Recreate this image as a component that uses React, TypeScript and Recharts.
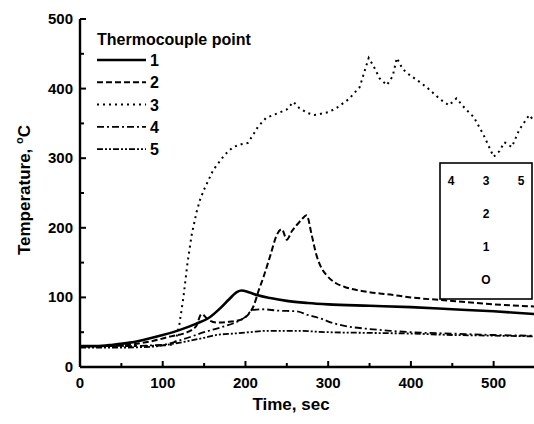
import React from 'react';
import { LineChart, Line, XAxis, YAxis, Customized } from 'recharts';

// time (sec) / temperature (degC) for each thermocouple point
const t1 = [0, 20, 40, 60, 80, 100, 120, 140, 155, 170, 180, 190, 195, 205, 215, 230, 250, 275, 300, 350, 400, 450, 500, 550];
const v1 = [30, 30, 32, 35, 40, 46, 53, 62, 70, 85, 97, 108, 110, 107, 103, 99, 95, 92, 90, 88, 86, 83, 80, 76];

const t2 = [0, 30, 60, 90, 110, 125, 140, 147, 155, 165, 180, 195, 203, 210, 216, 222, 230, 238, 244, 250, 256, 262, 268, 274, 280, 286, 292, 298, 310, 320, 347, 375, 400, 450, 500, 550];
const v2 = [30, 30, 32, 38, 44, 48, 58, 76, 68, 64, 65, 68, 75, 88, 110, 130, 160, 190, 198, 183, 195, 204, 212, 218, 190, 160, 142, 132, 120, 115, 108, 104, 100, 95, 90, 87];

const t3 = [0, 20, 40, 60, 80, 100, 110, 115, 120, 125, 130, 135, 141, 145, 150, 161, 175, 185, 195, 203, 210, 215, 225, 240, 250, 258, 265, 275, 283, 300, 310, 325, 338, 344, 349, 355, 362, 371, 378, 383, 390, 398, 410, 419, 435, 446, 455, 465, 476, 488, 500, 507, 513, 522, 531, 543, 550];
const v3 = [30, 29, 31, 30, 30, 31, 32, 35, 60, 100, 150, 190, 223, 240, 255, 283, 305, 316, 320, 322, 335, 345, 358, 365, 370, 381, 372, 365, 362, 366, 372, 385, 402, 425, 444, 432, 415, 405, 418, 444, 428, 420, 410, 402, 385, 376, 386, 372, 359, 333, 302, 310, 323, 316, 341, 362, 352];

const t4 = [0, 50, 100, 125, 150, 173, 190, 200, 209, 220, 240, 262, 275, 290, 306, 325, 346, 375, 400, 450, 500, 550];
const v4 = [30, 30, 32, 40, 50, 58, 65, 72, 82, 83, 81, 80, 75, 70, 63, 58, 55, 52, 50, 48, 46, 45];

const t5 = [0, 50, 85, 105, 125, 150, 165, 185, 205, 225, 260, 300, 350, 400, 450, 500, 550];
const v5 = [28, 28, 29, 32, 36, 42, 46, 48, 50, 52, 52, 50, 49, 48, 46, 45, 44];

const xTicks = [0, 50, 100, 150, 200, 250, 300, 350, 400, 450, 500];
const yTicks = [0, 50, 100, 150, 200, 250, 300, 350, 400, 450, 500];
const seriesNames = ['1', '2', '3', '4', '5'];
const insetRows = [['4', '3', '5'], ['', '2', ''], ['', '1', ''], ['', 'O', '']];

const zip = (t: number[], v: number[]) => t.map((x, i) => ({ t: x, v: v[i] }));

const FONT = '"Liberation Sans", Arial, sans-serif';

const dashes = ['', '6 3', '2 4', '7 3 2 3', '6 2 2 2 2 2'];
const widths = [2.6, 2, 2, 1.8, 1.8];

const XTick = (props: any) => {
  const { x, y, payload } = props;
  const major = payload.value % 100 === 0;
  return (
    <g>
      <line x1={x} x2={x} y1={y} y2={y - (major ? 6 : 4)} stroke="#000" strokeWidth={2} />
      {major && (
        <text x={x} y={y + 21} textAnchor="middle" fontFamily={FONT} fontWeight="bold" fontSize={15} fill="#000">
          {payload.value}
        </text>
      )}
    </g>
  );
};

const YTick = (props: any) => {
  const { x, y, payload } = props;
  const major = payload.value % 100 === 0;
  return (
    <g>
      <line x1={x} x2={x + (major ? 6 : 4)} y1={y} y2={y} stroke="#000" strokeWidth={2} />
      {major && (
        <text x={x - 7} y={y + 5} textAnchor="end" fontFamily={FONT} fontWeight="bold" fontSize={15} fill="#000">
          {payload.value}
        </text>
      )}
    </g>
  );
};

const Decorations = () => (
  <g fontFamily={FONT} fontWeight="bold" fill="#000">
    {/* legend */}
    <text x={97} y={45} fontSize={16}>Thermocouple point</text>
    {seriesNames.map((n, i) => {
      const y = 60 + i * 22.3;
      return (
        <g key={n}>
          <line x1={97} x2={146} y1={y} y2={y} stroke="#000" strokeWidth={widths[i]} strokeDasharray={dashes[i] || undefined} />
          <text x={150} y={y + 6} fontSize={16}>{n}</text>
        </g>
      );
    })}
    {/* axis titles */}
    <text x={291} y={410} textAnchor="middle" fontSize={17}>Time, sec</text>
    <text transform="translate(30,190) rotate(-90)" textAnchor="middle" fontSize={17}>
      Temperature, <tspan fontSize={11} dy={-7}>o</tspan><tspan dy={7}>C</tspan>
    </text>
    {/* inset sketch of thermocouple positions */}
    <rect x={440} y={163} width={92} height={136} fill="#fff" stroke="#000" strokeWidth={1.6} />
    {insetRows.map((row, r) =>
      row.map((s, c) =>
        s ? (
          <text key={`${r}-${c}`} x={451 + c * 35} y={185 + r * 33} textAnchor="middle" fontSize={12}>
            {s}
          </text>
        ) : null
      )
    )}
  </g>
);

export default function App() {
  const series = [zip(t1, v1), zip(t2, v2), zip(t3, v3), zip(t4, v4), zip(t5, v5)];
  return (
    <div style={{ position: 'absolute', left: 0, top: 0, width: 534, height: 424, overflow: 'hidden', background: '#fff' }}>
      <LineChart width={546} height={424} margin={{ top: 19, right: 11, left: 0, bottom: 0 }}>
        <XAxis
          dataKey="t"
          type="number"
          domain={[0, 550]}
          ticks={xTicks}
          interval={0}
          allowDataOverflow
          height={57}
          tickSize={0}
          tickMargin={0}
          tickLine={false}
          tick={<XTick />}
          axisLine={{ stroke: '#000', strokeWidth: 2.4 }}
        />
        <XAxis xAxisId="top" orientation="top" type="number" domain={[0, 550]} height={0} tick={false} tickLine={false} axisLine={{ stroke: '#000', strokeWidth: 2.4 }} />
        <YAxis
          type="number"
          domain={[0, 500]}
          ticks={yTicks}
          interval={0}
          width={80}
          tickSize={0}
          tickMargin={0}
          tickLine={false}
          tick={<YTick />}
          axisLine={{ stroke: '#000', strokeWidth: 2.4 }}
        />
        {series.map((d, i) => (
          <Line
            key={i}
            data={d}
            dataKey="v"
            type={i === 2 ? 'linear' : 'monotone'}
            stroke="#000"
            strokeWidth={widths[i]}
            strokeDasharray={dashes[i] || undefined}
            dot={false}
            isAnimationActive={false}
          />
        ))}
        <Customized component={Decorations} />
      </LineChart>
    </div>
  );
}
